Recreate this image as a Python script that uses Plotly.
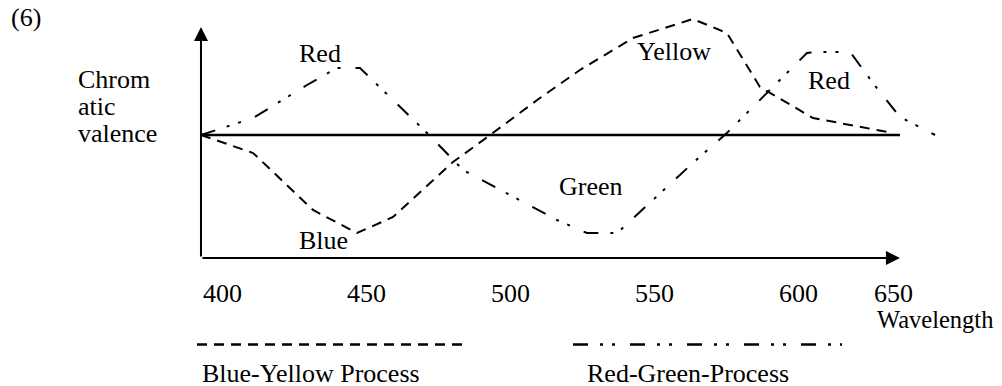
import plotly.graph_objects as go

# ---------------- data ----------------
# Blue-Yellow process (dashed): wavelength (nm) and chromatic valence
by_wavelength = [392.7, 410.8, 431.6, 446.9, 459.4, 480.2, 493.1, 510.4, 524.3,
                 542.7, 563.5, 575.3, 586.8, 605.2, 633.0]
by_valence = [0.0, -0.18, -0.75, -0.98, -0.82, -0.27, 0.0, 0.37, 0.65,
              0.97, 1.16, 1.02, 0.48, 0.17, 0.02]

# Red-Green process (dash-dot-dot)
rg_wavelength = [392.7, 410.8, 429.5, 439.9, 447.9, 455.9, 471.2, 483.7, 516.3,
                 526.7, 537.2, 563.5, 575.3, 603.1, 606.6, 618.1, 626.0, 635.4, 647.6]
rg_valence = [0.0, 0.17, 0.50, 0.67, 0.67, 0.45, 0.02, -0.35, -0.85,
              -0.98, -0.98, -0.28, 0.02, 0.82, 0.83, 0.83, 0.52, 0.18, 0.0]

# tick labels and where the picture places them (nm); the "650" label sits next to the arrow
tick_labels = ["400", "450", "500", "550", "600", "650"]
tick_positions = [400, 450, 500, 550, 600, 633.3]

# curve labels: (text, wavelength, valence)
curve_labels = ["Red", "Blue", "Green", "Yellow", "Red"]
curve_label_wl = [433.9, 435.1, 528.0, 557.1, 610.6]
curve_label_val = [0.82, -1.05, -0.51, 0.84, 0.55]

# axis extents (nm / valence)
x_origin = 392.7
x_end = 635.4
y_bottom = -1.23
y_top = 1.08

# ---------------- styles / layout ----------------
FONT = "Liberation Serif, Times New Roman, serif"
FS = 26
OFF = 8                      # default page margin of the html body
W, H = 1002 - OFF, 386 - OFF
BY_DASH = "10px,7px"
RG_DASH = "15px,12px,3px,9px,3px,15px"

X_RANGE = [400 + (OFF - 222) / 2.88, 400 + (1002 - 222) / 2.88]
Y_RANGE = [(135 - 386) / 100, (135 - OFF) / 100]


def px(xp):
    return (xp - OFF) / W


def py(yp):
    return 1 - (yp - OFF) / H


fig = go.Figure()

fig.add_trace(go.Scatter(x=by_wavelength, y=by_valence, mode="lines",
                         line=dict(color="black", width=2, dash=BY_DASH),
                         name="Blue-Yellow Process", showlegend=False))
fig.add_trace(go.Scatter(x=rg_wavelength, y=rg_valence, mode="lines",
                         line=dict(color="black", width=2, dash=RG_DASH),
                         name="Red-Green-Process", showlegend=False))

annotations = []
# axes with arrowheads
annotations.append(dict(x=x_origin, y=y_top, ax=x_origin, ay=y_bottom,
                        xref="x", yref="y", axref="x", ayref="y", text="",
                        showarrow=True, arrowhead=2, arrowsize=1.4, arrowwidth=2,
                        arrowcolor="black"))
annotations.append(dict(x=x_end, y=y_bottom, ax=x_origin, ay=y_bottom,
                        xref="x", yref="y", axref="x", ayref="y", text="",
                        showarrow=True, arrowhead=2, arrowsize=1.4, arrowwidth=2,
                        arrowcolor="black"))

tf = dict(family=FONT, size=FS, color="black")

# tick labels
for lab, pos in zip(tick_labels, tick_positions):
    annotations.append(dict(x=pos, y=py(293.4), xref="x", yref="paper", text=lab,
                            showarrow=False, font=tf, xanchor="center", yanchor="middle"))

# curve labels
for lab, wl, v in zip(curve_labels, curve_label_wl, curve_label_val):
    annotations.append(dict(x=wl, y=v, xref="x", yref="y", text=lab,
                            showarrow=False, font=tf, xanchor="center", yanchor="middle"))

# other texts
annotations.append(dict(x=px(26), y=py(17), xref="paper", yref="paper", text="(6)",
                        showarrow=False, font=tf, xanchor="center", yanchor="middle"))
for t, yb in zip(["Chrom", "atic", "valence"], [79.4, 106.4, 133.4]):
    annotations.append(dict(x=px(76), y=py(yb), xref="paper", yref="paper", text=t,
                            showarrow=False, font=tf, xanchor="left", yanchor="middle"))
annotations.append(dict(x=px(875), y=py(319.6), xref="paper", yref="paper", text="Wavelength",
                        showarrow=False, font=dict(family=FONT, size=24.5, color="black"),
                        xanchor="left", yanchor="middle"))
annotations.append(dict(x=px(200), y=py(373.0), xref="paper", yref="paper",
                        text="Blue-Yellow Process",
                        showarrow=False, font=tf, xanchor="left", yanchor="middle"))
annotations.append(dict(x=px(585), y=py(373.0), xref="paper", yref="paper",
                        text="Red-Green-Process",
                        showarrow=False, font=tf, xanchor="left", yanchor="middle"))

shapes = [
    # zero line
    dict(type="line", xref="x", yref="y", x0=x_origin, x1=x_end, y0=0, y1=0,
         line=dict(color="black", width=2.5)),
    # legend samples
    dict(type="line", xref="paper", yref="paper", x0=px(197), x1=px(463),
         y0=py(344.5), y1=py(344.5), line=dict(color="black", width=2.7, dash=BY_DASH)),
    dict(type="line", xref="paper", yref="paper", x0=px(573), x1=px(842),
         y0=py(344.5), y1=py(344.5), line=dict(color="black", width=2.7, dash=RG_DASH)),
]

fig.update_layout(
    width=W, height=H,
    margin=dict(l=0, r=0, t=0, b=0),
    paper_bgcolor="white", plot_bgcolor="white",
    xaxis=dict(range=X_RANGE, visible=False, showgrid=False, zeroline=False),
    yaxis=dict(range=Y_RANGE, visible=False, showgrid=False, zeroline=False),
    annotations=annotations,
    shapes=shapes,
    showlegend=False,
)

fig.write_html("out.html")
